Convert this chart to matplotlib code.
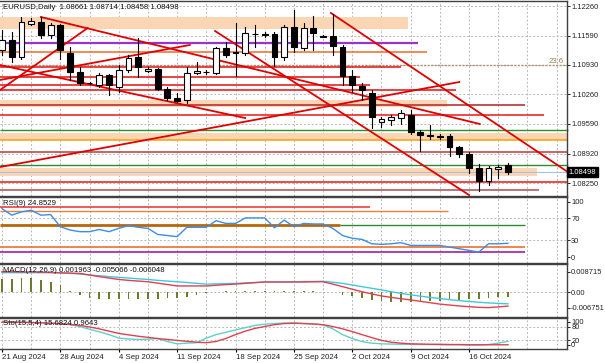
import matplotlib
matplotlib.use("Agg")
import matplotlib.pyplot as plt

# ---------------- data ----------------
opens = [1.11265, 1.11491, 1.11106, 1.11853, 1.11898, 1.11604, 1.11830, 1.11197, 1.10767, 1.10518,
         1.10472, 1.10699, 1.10427, 1.10812, 1.11106, 1.10789, 1.10835, 1.10382, 1.10178, 1.10133,
         1.10744, 1.10767, 1.10744, 1.11310, 1.11197, 1.11197, 1.11627, 1.11627, 1.11627, 1.11106,
         1.11785, 1.11310, 1.11762, 1.11581, 1.11581, 1.11333, 1.10676, 1.10450, 1.10291, 1.09635,
         1.09680, 1.09726, 1.09794, 1.09409, 1.09341, 1.09318, 1.09318, 1.09070, 1.08911, 1.08594,
         1.08300, 1.08572, 1.08661]
highs = [1.11717, 1.11672, 1.12011, 1.11989, 1.12011, 1.11875, 1.11853, 1.11333, 1.10880, 1.10540,
         1.10744, 1.10721, 1.10925, 1.11152, 1.11536, 1.10880, 1.10858, 1.10427, 1.10291, 1.10880,
         1.10993, 1.10812, 1.11333, 1.11446, 1.11875, 1.11785, 1.11830, 1.11672, 1.11672, 1.11830,
         1.12170, 1.11875, 1.12034, 1.11604, 1.12079, 1.11378, 1.10812, 1.10518, 1.10359, 1.09748,
         1.09794, 1.09907, 1.09907, 1.09454, 1.09567, 1.09364, 1.09364, 1.09092, 1.08956, 1.08685,
         1.08640, 1.08662, 1.08714]
lows = [1.11152, 1.10993, 1.11061, 1.11830, 1.11536, 1.11536, 1.11061, 1.10586, 1.10472, 1.10495,
        1.10427, 1.10246, 1.10314, 1.10767, 1.10653, 1.10767, 1.10359, 1.10133, 1.10088, 1.10065,
        1.10721, 1.10721, 1.10721, 1.11106, 1.10676, 1.11152, 1.11333, 1.11559, 1.10903, 1.11038,
        1.11220, 1.11265, 1.11265, 1.11559, 1.11152, 1.10472, 1.10314, 1.10133, 1.09499, 1.09522,
        1.09567, 1.09590, 1.09364, 1.08979, 1.09251, 1.09251, 1.08866, 1.08843, 1.08481, 1.08073,
        1.08209, 1.08368, 1.08458]
closes = [1.11491, 1.11106, 1.11898, 1.11921, 1.11604, 1.11830, 1.11265, 1.10767, 1.10518, 1.10510,
          1.10699, 1.10472, 1.10812, 1.11084, 1.10880, 1.10835, 1.10382, 1.10178, 1.10110, 1.10744,
          1.10789, 1.10770, 1.11310, 1.11152, 1.11210, 1.11649, 1.11620, 1.11610, 1.11106, 1.11785,
          1.11333, 1.11762, 1.11649, 1.11570, 1.11355, 1.10676, 1.10472, 1.10359, 1.09748, 1.09703,
          1.09748, 1.09839, 1.09409, 1.09341, 1.09318, 1.09296, 1.09070, 1.08911, 1.08594, 1.08300,
          1.08594, 1.08617, 1.08498]

rsi = [88, 76, 82, 85, 76, 77, 55, 49, 46, 46, 50, 46, 52, 57, 54, 52, 41, 39, 37, 54,
       54, 54, 66, 61, 61, 71, 71, 71, 53, 67, 55, 61, 60, 60, 52, 39, 34, 32, 24, 23,
       24, 26, 21, 21, 21, 21, 18, 15, 12, 9, 24, 24, 24.8529]

macd_cyan = [0.0083, 0.0083, 0.0083, 0.0083, 0.0083, 0.0083, 0.0083, 0.0080, 0.0077, 0.0073,
             0.0070, 0.0066, 0.0063, 0.0060, 0.0057, 0.0054, 0.0050, 0.0047, 0.0044, 0.0041,
             0.0037, 0.0034, 0.0035, 0.0036, 0.0037, 0.0039, 0.0041, 0.0043, 0.0043, 0.0043,
             0.0044, 0.0045, 0.0045, 0.0046, 0.0042, 0.0037, 0.0030, 0.0023, 0.0016, 0.0009,
             0.0001, -0.0006, -0.0012, -0.0018, -0.0023, -0.0028, -0.0033, -0.0037, -0.0041, -0.0044,
             -0.0047, -0.0049, -0.005066]
macd_red = [0.0087, 0.0087, 0.0086, 0.0086, 0.0085, 0.0084, 0.0082, 0.0081, 0.0080, 0.0073,
            0.0066, 0.0060, 0.0054, 0.0050, 0.0047, 0.0044, 0.0038, 0.0032, 0.0026, 0.0026,
            0.0026, 0.0026, 0.0029, 0.0032, 0.0034, 0.0037, 0.0040, 0.0043, 0.0043, 0.0043,
            0.0043, 0.0043, 0.0044, 0.0044, 0.0034, 0.0023, 0.0012, 0.0001, -0.0008, -0.0017,
            -0.0023, -0.0029, -0.0034, -0.0040, -0.0046, -0.0052, -0.0056, -0.0060, -0.0063, -0.0066,
            -0.0067, -0.0064, -0.006048]
macd_hist = [0.0056, 0.0056, 0.0059, 0.0059, 0.0052, 0.0044, 0.0030, 0.0006, -0.0013, -0.0027,
             -0.0032, -0.0032, -0.0032, -0.0032, -0.0032, -0.0032, -0.0032, -0.0027, -0.0027, -0.0020,
             -0.0013, -0.0006, 0.0000, 0.0003, 0.0004, 0.0006, 0.0006, 0.0006, 0.0004, 0.0006,
             0.0004, 0.0004, 0.0003, 0.0001, -0.0002, -0.0013, -0.0017, -0.0027, -0.0034, -0.0037,
             -0.0042, -0.0042, -0.0042, -0.0039, -0.0037, -0.0037, -0.0034, -0.0034, -0.0032, -0.0032,
             -0.0027, -0.0023, -0.0020]

sto_main = [98, 99, 99, 98, 97, 95, 93, 88, 80, 68, 57, 45, 30, 26, 24, 25, 28, 15, 5, 8,
            10, 30, 45, 55, 65, 75, 85, 90, 93, 95, 96, 93, 92, 87, 70, 45, 28, 15, 8, 5,
            4, 3, 3, 2, 2, 1, 1, 1, 0, 0, 2, 8, 15.6824]
sto_signal = [99, 99, 98, 97, 96, 94, 92, 89, 85, 78, 70, 60, 50, 44, 38, 33, 28, 24, 20, 16,
              12, 10, 15, 28, 45, 60, 72, 80, 88, 93, 94, 93, 91, 88, 80, 70, 58, 45, 32, 20,
              12, 8, 5, 4, 3, 3, 2, 2, 1, 1, 1, 1, 0.9643]

date_idx = [0, 6, 12, 18, 24, 30, 36, 42, 48]
date_labels = ['21 Aug 2024', '28 Aug 2024', '4 Sep 2024', '11 Sep 2024', '18 Sep 2024',
               '25 Sep 2024', '2 Oct 2024', '9 Oct 2024', '16 Oct 2024']

price_ticks = [1.12260, 1.11590, 1.10930, 1.10260, 1.09590, 1.08920, 1.08250]
last_price = 1.08498

# horizontal levels in the price window: price, last bar reached
level_prices = [1.11423, 1.11219, 1.10880, 1.10653, 1.10472, 1.10359, 1.10010, 1.09794,
                1.09443, 1.09239, 1.08945, 1.08651, 1.08288, 1.08085]
level_ends = [42.8, 43.7, 41.0, 36.8, 37.8, 46.7, 53.7, 55.7, 58.2, 58.2, 58.2, 58.2, 58.2, 55.2]
level_colors = ['#9933cc', '#f06a2a', '#e01010', '#e01010', '#e01010', '#e01010', '#b22222',
                '#e81818', '#2e8b2e', '#ffa31a', '#b83a3a', '#2e8b2e', '#e81818', '#a85050']
level_widths = [1.6, 1.1, 1.1, 1.1, 1.1, 1.1, 1.1, 1.1, 1.0, 1.2, 1.1, 1.0, 1.1, 1.1]

# supply/demand zones: low, high, last bar reached
zone_lows = [1.11740, 1.09975, 1.09228, 1.08413]
zone_highs = [1.12011, 1.10133, 1.09386, 1.08594]
zone_ends = [41.7, 45.7, 58.2, 55.0]

fib_price = 1.10915

# trend lines: start bar, start price, end bar, end price
tl_x0 = [4.0, -0.2, -0.2, -0.2, 21.9, 33.8, -0.2]
tl_p0 = [1.12011, 1.10359, 1.10925, 1.08617, 1.11694, 1.12102, 1.10586]
tl_x1 = [49.1, 8.8, 25.0, 47.0, 48.0, 58.0, 19.3]
tl_p1 = [1.09590, 1.11762, 1.09725, 1.10540, 1.07983, 1.08526, 1.11378]

# RSI window levels: value, first bar, last bar
rsi_lv_vals = [91.5, 83.6, 58.0, 58.0, 18.5, 8.5]
rsi_lv_x0 = [-0.2, -0.2, -0.2, 34.7, -0.2, -0.2]
rsi_lv_x1 = [37.8, 45.8, 34.7, 53.7, 53.7, 53.7]
rsi_lv_colors = ['#e83030', '#f08040', '#b8660b', '#2e8b2e', '#f07030', '#a020a0']
rsi_lv_widths = [1.1, 1.0, 2.0, 1.0, 1.2, 1.2]

# ---------------- layout ----------------
W, H = 605, 363
FONT = ['Liberation Sans', 'DejaVu Sans']
plt.rcParams['font.family'] = FONT
FS = 5.6
FS_AX = 5.4

fig = plt.figure(figsize=(W / 100, H / 100), dpi=100)
fig.patch.set_facecolor('white')

AX_R = 567


def add_ax(y0, y1):
    return fig.add_axes([0, 1 - y1 / H, AX_R / W, (y1 - y0) / H])


PX_BAR = 9.73
XLIM = (-2 / PX_BAR, (AX_R - 2) / PX_BAR)
n = len(opens)
xs = list(range(n))

ax = add_ax(1, 196)
ax_rsi = add_ax(197, 263)
ax_macd = add_ax(264, 317)
ax_sto = add_ax(318, 349)

PPX = 0.0002263
ax.set_ylim(1.12396 - 196 * PPX, 1.12396 - 1 * PPX)
ax_rsi.set_ylim(-10.9, 109)
ax_macd.set_ylim(-0.01074, 0.01203)
ax_sto.set_ylim(-17.4, 117)

grid_x = [i for i in range(0, 60, 3)]
for a in (ax, ax_rsi, ax_macd, ax_sto):
    a.set_xlim(*XLIM)
    a.set_facecolor('white')
    for s in a.spines.values():
        s.set_color('#404040')
        s.set_linewidth(1.0)
    a.spines['left'].set_visible(False)
    for gx in grid_x:
        a.axvline(gx, color='#b8b8b8', lw=0.7, ls=(0, (2, 2)), zorder=0)
    a.yaxis.tick_right()
    a.tick_params(axis='y', direction='out', length=2.0, width=0.7, pad=1.0,
                  labelsize=FS_AX, colors='#222222')
    a.tick_params(axis='x', length=0)
    a.set_xticks([])

# ---- price window ----
for p in price_ticks:
    ax.axhline(p, color='#b8b8b8', lw=0.7, ls=(0, (2, 2)), zorder=0)
ax.set_yticks(price_ticks)
ax.set_yticklabels(['%.5f' % p for p in price_ticks])

for lo, hi, e in zip(zone_lows, zone_highs, zone_ends):
    ax.fill_between([XLIM[0], e], lo, hi, color='#fbd6b4', lw=0, zorder=1, clip_on=False)

ax.plot([XLIM[0], XLIM[1]], [fib_price, fib_price], color='#b09070', lw=1.0,
        ls=(0, (1.5, 1)), zorder=2)
ax.text(XLIM[1] - 0.3, fib_price, '23.6', color='#a07850', fontsize=FS, ha='right',
        va='bottom')

for p, e, c, w in zip(level_prices, level_ends, level_colors, level_widths):
    ax.plot([XLIM[0], e], [p, p], color=c, lw=w, zorder=2, solid_capstyle='butt',
            clip_on=False)

ax.axhline(last_price, color='#aac0dd', lw=0.8, zorder=2)

for x0, p0, x1, p1 in zip(tl_x0, tl_p0, tl_x1, tl_p1):
    ax.plot([x0, x1], [p0, p1], color='#e00000', lw=1.3, zorder=3)

# candles
for i in xs:
    o, h_, l, c = opens[i], highs[i], lows[i], closes[i]
    ax.plot([i, i], [l, h_], color='black', lw=0.8, zorder=4)
    up = c >= o
    ax.bar(i, abs(c - o), bottom=min(o, c), width=0.6,
           color='white' if up else 'black', edgecolor='black', linewidth=0.8, zorder=5)

ax.text(0.006, 0.985, 'EURUSD,Daily  1.08661 1.08714 1.08458 1.08498',
        transform=ax.transAxes, fontsize=FS, va='top', ha='left', color='#111111')

# last price tag
ax.text(1.003, last_price, '%.5f' % last_price, transform=ax.get_yaxis_transform(),
        fontsize=FS_AX, color='white', va='center', ha='left',
        bbox=dict(boxstyle='square,pad=0.2', fc='black', ec='black'), clip_on=False,
        zorder=10)

# ---- RSI ----
for v in (70, 30):
    ax_rsi.axhline(v, color='#b8b8b8', lw=0.7, ls=(0, (2, 2)), zorder=0)
for v, x0, x1, c, w in zip(rsi_lv_vals, rsi_lv_x0, rsi_lv_x1, rsi_lv_colors, rsi_lv_widths):
    ax_rsi.plot([x0, x1], [v, v], color=c, lw=w, zorder=2, solid_capstyle='butt')
ax_rsi.plot(xs, rsi, color='#3a8ee6', lw=1.0, zorder=3)
ax_rsi.set_yticks([100, 70, 30, 0])
ax_rsi.set_yticklabels(['100', '70', '30', '0'])
ax_rsi.text(0.006, 0.95, 'RSI(9) 24.8529', transform=ax_rsi.transAxes, fontsize=FS,
            va='top', ha='left', color='#111111')

# ---- MACD ----
ax_macd.axhline(0, color='#b8b8b8', lw=0.7, ls=(0, (2, 2)), zorder=0)
ax_macd.bar(xs, macd_hist, width=0.18, color='#6f7a2a', zorder=2)
ax_macd.plot(xs, macd_cyan, color='#40c8e0', lw=1.0, zorder=3)
ax_macd.plot(xs, macd_red, color='#e04050', lw=1.0, zorder=3)
ax_macd.set_yticks([0.008715, 0.0, -0.006751])
ax_macd.set_yticklabels(['0.008715', '0.00', '-0.006751'])
ax_macd.text(0.006, 0.95, 'MACD(12,26,9) 0.001963 -0.005066 -0.006048',
             transform=ax_macd.transAxes, fontsize=FS, va='top', ha='left', color='#111111')

# ---- Stochastic ----
for v in (80, 20):
    ax_sto.axhline(v, color='#b8b8b8', lw=0.7, ls=(0, (2, 2)), zorder=0)
ax_sto.plot(xs, sto_main, color='#60d0c8', lw=1.0, zorder=3)
ax_sto.plot(xs, sto_signal, color='#e04050', lw=1.0, zorder=3)
ax_sto.set_yticks([100, 80, 20, 0])
ax_sto.set_yticklabels(['100', '80', '20', '0'])
ax_sto.text(0.006, 0.93, 'Sto(15,5,4) 15.6824 0.9643', transform=ax_sto.transAxes,
            fontsize=FS, va='top', ha='left', color='#111111')
ax_sto.set_xticks(date_idx)
ax_sto.set_xticklabels(date_labels, ha='left', fontsize=FS, color='#222222')
ax_sto.tick_params(axis='x', length=2, pad=1.5)

fig.savefig('out.png', dpi=100, facecolor='white')
